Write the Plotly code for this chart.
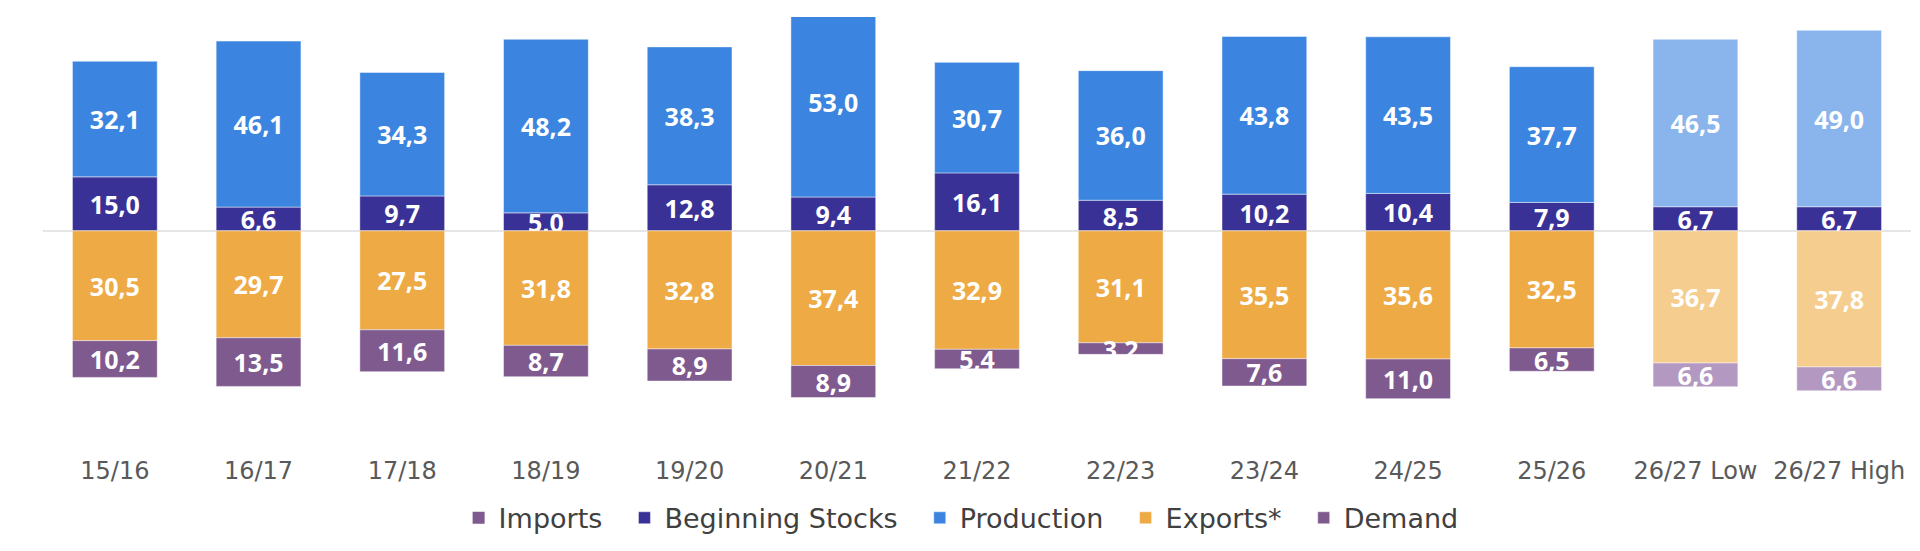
import plotly.graph_objects as go

categories = ["15/16", "16/17", "17/18", "18/19", "19/20", "20/21", "21/22",
              "22/23", "23/24", "24/25", "25/26", "26/27 Low", "26/27 High"]
imports = [0, 0, 0, 0, 0, 0, 0, 0, 0, 0, 0, 0, 0]
beginning_stocks = [15.0, 6.6, 9.7, 5.0, 12.8, 9.4, 16.1, 8.5, 10.2, 10.4, 7.9, 6.7, 6.7]
production = [32.1, 46.1, 34.3, 48.2, 38.3, 53.0, 30.7, 36.0, 43.8, 43.5, 37.7, 46.5, 49.0]
exports = [30.5, 29.7, 27.5, 31.8, 32.8, 37.4, 32.9, 31.1, 35.5, 35.6, 32.5, 36.7, 37.8]
demand = [10.2, 13.5, 11.6, 8.7, 8.9, 8.9, 5.4, 3.2, 7.6, 11.0, 6.5, 6.6, 6.6]
forecast = [False] * 11 + [True, True]

C_STOCKS = "#3a3197"
C_PROD = "#3b85e0"
C_PROD_L = "#89b5ec"
C_EXP = "#eeaa45"
C_EXP_L = "#f5cd8f"
C_DEM = "#7f5a8f"
C_DEM_L = "#b398c2"

PAD = "\u00a0\u00a0"


def fmt(v):
    return f"{abs(v):.1f}".replace(".", ",")


def cols(base, light):
    return [light if f else base for f in forecast]


edge = dict(width=1, color="rgba(255,255,255,0.45)")

fig = go.Figure()
fig.add_trace(go.Bar(name="Imports" + PAD, x=categories, y=imports,
                     marker=dict(color=C_DEM, line=dict(width=0))))
fig.add_trace(go.Bar(name="Beginning Stocks" + PAD, x=categories, y=beginning_stocks,
                     marker=dict(color=C_STOCKS, line=edge),
                     text=[fmt(v) for v in beginning_stocks]))
fig.add_trace(go.Bar(name="Production" + PAD, x=categories, y=production,
                     marker=dict(color=cols(C_PROD, C_PROD_L), line=edge),
                     text=[fmt(v) for v in production]))
fig.add_trace(go.Bar(name="Exports*" + PAD, x=categories, y=[-v for v in exports],
                     marker=dict(color=cols(C_EXP, C_EXP_L), line=edge),
                     text=[fmt(v) for v in exports]))
fig.add_trace(go.Bar(name="Demand", x=categories, y=[-v for v in demand],
                     marker=dict(color=cols(C_DEM, C_DEM_L), line=edge),
                     text=[fmt(v) for v in demand]))

fig.update_traces(textposition="inside", insidetextanchor="middle", textangle=0,
                  textfont=dict(family="Open Sans", size=25, color="white", weight="bold"),
                  constraintext="none", cliponaxis=True)

fig.update_layout(
    width=1920, height=551,
    barmode="relative", bargap=0.41,
    margin=dict(l=35, r=17, t=9, b=112),
    paper_bgcolor="white", plot_bgcolor="white",
    font=dict(family="DejaVu Sans", size=24, color="#595959"),
    uniformtext=dict(minsize=25, mode="show"),
    showlegend=True,
    legend=dict(orientation="h", x=0.4915, xanchor="center", y=0.074, yanchor="middle",
                yref="container", font=dict(family="DejaVu Sans", size=27, color="#404040"),
                traceorder="normal", itemwidth=30),
    xaxis=dict(showgrid=False, showline=False, ticks="", ticklabelstandoff=9,
               tickfont=dict(family="DejaVu Sans", size=24, color="#595959")),
    yaxis=dict(range=[-59.4, 59.4], showgrid=False, showticklabels=False, zeroline=True,
               zerolinecolor="#e6e6e6", zerolinewidth=2),
)

fig.write_html("out.html")
